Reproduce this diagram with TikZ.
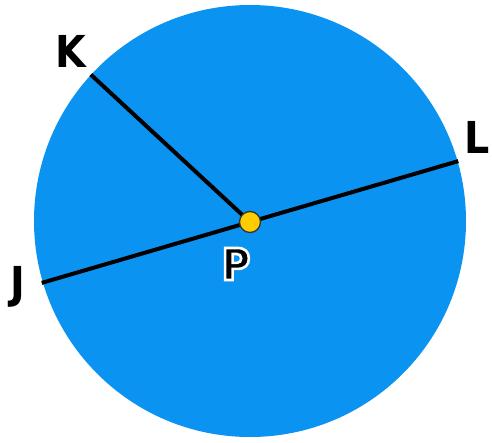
\documentclass[tikz,border=0pt]{standalone}
\usepackage{fontspec}
\setmainfont{DejaVu Sans}
\newfontfamily\lblfont{DejaVu Sans Condensed}[BoldFont={DejaVu Sans Condensed Bold}]
\usetikzlibrary{calc}
\definecolor{discblue}{HTML}{0B93F2}
\definecolor{dotyellow}{HTML}{FFCC00}
\newcommand{\halotext}[1]{\special{pdf:literal direct 2 Tr 2.6 w 1 1 1 RG}#1\special{pdf:literal direct 0 Tr}}
\begin{document}
\begin{tikzpicture}[x=1pt,y=-1pt,
  seg/.style={line width=4pt,black},
  lbl/.style={font=\lblfont\bfseries\fontsize{44}{44}\selectfont,inner sep=0pt,text=black}]
\useasboundingbox (0,0) rectangle (492,442);
\fill[discblue] (250,221) circle[radius=216];
\coordinate (P) at (250,222);
\coordinate (K) at ($(P)+(-137.2:217)$);
\coordinate (L) at ($(P)+(-16.3:217)$);
\coordinate (J) at ($(P)+(163.7:217)$);
\draw[seg] (J) -- (L);
\draw[seg] (P) -- (K);
\node[circle,fill=dotyellow,draw=black!80,line width=1.3pt,minimum size=21pt,inner sep=0pt] (dot) at (P) {};
\node[lbl] (kl) at (71,51) {K};
\node[lbl] (ll) at (477,137) {L};
\node[lbl] (jl) at (18,287) {J};
\node[lbl] (pl) at (236,264) {\halotext{P}};
\end{tikzpicture}
\end{document}
